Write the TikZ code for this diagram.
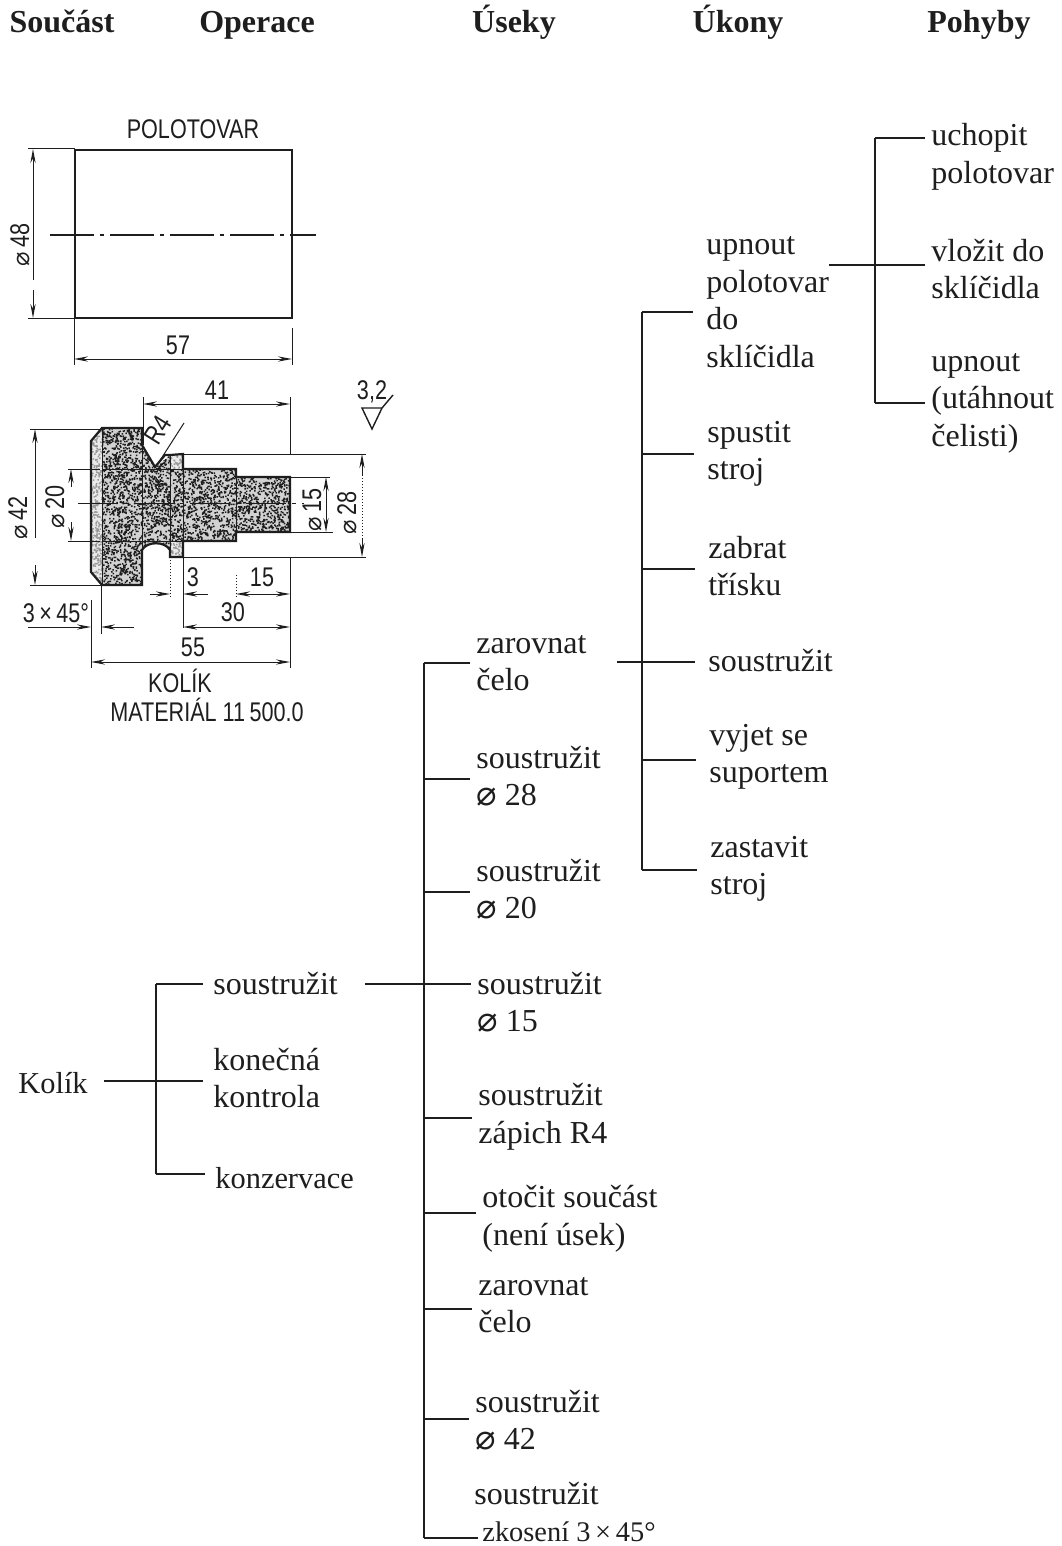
\documentclass[tikz,border=0pt]{standalone}
\usepackage{fontspec}
\setmainfont{Liberation Serif}
\newfontfamily\drawfont[FakeStretch=0.8]{Liberation Sans}
\newfontfamily\symfont{DejaVu Sans}
\usetikzlibrary{arrows.meta}
\definecolor{ink}{RGB}{30,30,30}
\newcommand{\prumer}{\smash{\symfont\fontsize{17}{17}\selectfont ⌀}}
\newcommand{\dimprumer}{{\symfont\fontsize{12}{12}\selectfont ⌀}}

\begin{document}
\begin{tikzpicture}[x=0.5pt,y=-0.5pt,
    head/.style={font=\fontsize{16}{19}\selectfont\bfseries,text=ink,inner sep=0pt,anchor=base},
    lbl/.style={font=\fontsize{16}{18.75}\selectfont,text=ink,anchor=west,align=left,inner sep=0pt},
    branch/.style={ink,line width=0.55pt,shorten >=3pt},
    spine/.style={ink,line width=0.6pt},
    feed/.style={ink,line width=0.9pt},
    dimtxt/.style={font=\drawfont\fontsize{13.5}{16}\selectfont,text=ink,inner sep=0pt},
    edge/.style={ink,line width=1.1pt},
    thin line/.style={ink,line width=0.5pt},
    dimline/.style={thin line,{Stealth[length=7pt,width=2.6pt]}-{Stealth[length=7pt,width=2.6pt]}},
    dimhalf/.style={thin line,-{Stealth[length=7pt,width=2.6pt]}}]
  \useasboundingbox (0,0) rectangle (1061,1546);
  \fill[white] (0,0) rectangle (1061,1546);
  % column headings
  \node[head] (soucast) at (62,33) {Součást};
  \node[head] (operace) at (257,33) {Operace};
  \node[head] (useky) at (514,33) {Úseky};
  \node[head] (ukony) at (738,33) {Úkony};
  \node[head] (pohyby) at (979,33) {Pohyby};

  % blank
  \node[dimtxt] (polotovar) at (193,129) {POLOTOVAR};
  \draw[edge] (75,150) rectangle (292,318);
  \draw[thin line,line width=0.7pt,dash pattern=on 22pt off 3pt on 2pt off 3pt] (50,235) -- (316,235);
  \draw[thin line] (28,149) -- (75,149);
  \draw[thin line] (28,318) -- (75,318);
  \draw[dimhalf] (33,280) -- (33,149);
  \draw[dimhalf] (33,290) -- (33,318);
  \node[dimtxt,rotate=90] (dquarantaotto) at (20,245) {\dimprumer\,48};
  \draw[thin line] (74,318) -- (74,365);
  \draw[thin line] (292,328) -- (292,365);
  \draw[dimline] (74,359) -- (292,359);
  \node[dimtxt] (lblank) at (178,345) {57};

  % pin, section with stipple
  \begin{scope}
    \clip (91,441) -- (102,428) -- (142,428) -- (142,445) -- (155,468) -- (170,455) -- (183,454)
      -- (183,469) -- (236,469) -- (236,477) -- (290,477) -- (290,532) -- (236,532) -- (236,541) -- (183,541)
      -- (183,557) -- (170,557) -- (170,550) .. controls (165,541) and (147,541) .. (142,550) -- (142,585)
      -- (102,585) -- (91,572) -- cycle;
    \pgfmathsetseed{7}
    \fill[gray!35] (91,428) rectangle (290,585);
    \fill[ink] \foreach \i in {1,...,6000}{
      (91+199*rnd,428+157*rnd) rectangle ++(1.5,1.5)};
    \fill[white,opacity=.55] (91,428) rectangle (102,585);
    \fill[white,opacity=.55] (170,454) rectangle (183,469);
    \fill[white,opacity=.55] (170,541) rectangle (183,557);
  \end{scope}
  \draw[edge] (91,441) -- (102,428) -- (142,428) -- (142,445) -- (155,467) -- (165,455) -- (170,455) -- (183,454)
    -- (183,469) -- (236,469) -- (236,477) -- (290,477) -- (290,532) -- (236,532) -- (236,541) -- (183,541)
    -- (183,557) -- (170,557) -- (170,550) .. controls (165,541) and (147,541) .. (142,550) -- (142,585)
    -- (102,585) -- (91,572) -- cycle;
  \draw[thin line] (102,428) -- (102,585);
  \draw[thin line] (142,428) -- (142,585);
  \draw[thin line] (170,455) -- (170,557);
  \draw[thin line] (183,469) -- (183,541);
  \draw[thin line] (236,469) -- (236,541);
  \draw[thin line] (102,469) -- (183,469);
  \draw[thin line] (102,541) -- (183,541);
  \draw[thin line,dash pattern=on 20pt off 3pt on 2pt off 3pt] (78,503) -- (304,503);

  % pin, diameters
  \draw[thin line] (30,429) -- (102,429);
  \draw[thin line] (30,585) -- (102,585);
  \draw[dimhalf] (35,538) -- (35,429);
  \draw[dimhalf] (35,565) -- (35,585);
  \node[dimtxt,rotate=90] (dquarantadue) at (18,518) {\dimprumer\,42};
  \draw[thin line] (68,469) -- (100,469);
  \draw[thin line] (68,541) -- (100,541);
  \draw[dimhalf] (71,487) -- (71,469);
  \draw[dimhalf] (71,522) -- (71,541);
  \node[dimtxt,rotate=90] (dventi) at (55,507) {\dimprumer\,20};
  \draw[thin line] (290,477) -- (330,477);
  \draw[thin line] (290,532) -- (333,532);
  \draw[dimline] (326,477) -- (326,532);
  \node[dimtxt,rotate=90] (dquindici) at (312,510) {\dimprumer\,15};
  \draw[thin line] (183,454) -- (366,454);
  \draw[thin line] (183,557) -- (366,557);
  \draw[dimhalf] (362,475) -- (362,454);
  \draw[dimhalf] (362,538) -- (362,557);
  \draw[thin line,densely dotted] (362,475) -- (362,538);
  \node[dimtxt,rotate=90] (dventotto) at (347,513) {\dimprumer\,28};

  % pin, lengths
  \draw[thin line] (143,397) -- (143,445);
  \draw[thin line] (290,397) -- (290,454);
  \draw[thin line] (290,557) -- (290,668);
  \draw[dimline] (143,404) -- (290,404);
  \node[dimtxt] (lquarantuno) at (217,390) {41};
  \draw[thin line] (159,462) -- (184,423);
  \node[dimtxt,rotate=58] (rquattro) at (158,430) {R4};
  \node[dimtxt] (drsnost) at (372,392) {3,2};
  \draw[thin line,line width=0.7pt] (393,395) -- (382,408) -- (362,408) -- (372,429) -- (382,408);
  \draw[thin line,densely dotted] (170,560) -- (170,597);
  \draw[thin line] (183,557) -- (183,628);
  \draw[dimhalf] (150,594) -- (170,594);
  \draw[dimhalf] (208,594) -- (183,594);
  \node[dimtxt] (ltre) at (193,577) {3};
  \draw[thin line,densely dotted] (236,575) -- (236,598);
  \draw[dimline] (236,594) -- (290,594);
  \node[dimtxt] (lquindici) at (262,577) {15};
  \draw[dimline] (183,627) -- (290,627);
  \node[dimtxt] (ltrenta) at (233,612) {30};
  \draw[thin line] (91,600) -- (91,668);
  \draw[thin line] (101,585) -- (101,634);
  \draw[dimhalf] (28,627) -- (91,627);
  \draw[dimhalf] (134,627) -- (101,627);
  \node[dimtxt] (lsrazeni) at (56,613) {3\,×\,45°};
  \draw[dimline] (91,662) -- (290,662);
  \node[dimtxt] (lcinquanta) at (193,647) {55};
  \node[dimtxt] (kolikname) at (180,681) {KOLÍK};
  \node[dimtxt] (material) at (207,710) {MATERIÁL 11\,500.0};

  % motions
  \node[lbl] (uchopit) at (931,157) {uchopit\\polotovar};
  \node[lbl] (vlozit) at (931,269) {vložit do\\sklíčidla};
  \node[lbl] (utahnout) at (931,403) {upnout\\(utáhnout\\čelisti)};
  % tasks
  \node[lbl] (upnout) at (706,302) {upnout\\polotovar\\do\\sklíčidla};
  \node[lbl] (spustit) at (707,454) {spustit\\stroj};
  \node[lbl] (zabrat) at (708,566) {zabrat\\třísku};
  \node[lbl] (soustruzit) at (708,661) {soustružit};
  \node[lbl] (vyjet) at (709,757) {vyjet se\\suportem};
  \node[lbl] (zastavit) at (710,869) {zastavit\\stroj};
  % sections
  \node[lbl] (celoa) at (476,663) {zarovnat\\čelo};
  \node[lbl] (sosmadvacet) at (476,776) {soustružit\\\prumer\ 28};
  \node[lbl] (sdvacet) at (476,889) {soustružit\\\prumer\ 20};
  \node[lbl] (spatnact) at (477,1002) {soustružit\\\prumer\ 15};
  \node[lbl] (szapich) at (478,1117) {soustružit\\zápich R4};
  \node[lbl] (otocit) at (482,1219) {otočit součást\\(není úsek)};
  \node[lbl] (celob) at (478,1305) {zarovnat\\čelo};
  \node[lbl] (sctyricet) at (475,1420) {soustružit\\\prumer\ 42};
  \node[lbl] (szkoseni) at (474,1512) {soustružit\\{\fontsize{14.2}{14.2}\selectfont\hspace*{4pt}zkosení 3\,×\,45°}};
  % operations
  \node[lbl] (opsoustruzit) at (213,984) {soustružit};
  \node[lbl] (kontrola) at (213,1078) {konečná\\kontrola};
  \node[lbl] (konzervace) at (215,1178) {\fontsize{15.2}{18}\selectfont konzervace};
  \node[lbl] (kolik) at (18,1083) {\fontsize{15.2}{18}\selectfont Kolík};

  % feeding ends
  \coordinate (izarovnat) at (617,662);
  \coordinate (isoustruzit) at (365,984);
  \coordinate (ikolik) at (104,1081);

  % trees
  \foreach \n/\y in {uchopit/138,vlozit/265,utahnout/403}{
    \coordinate (j\n) at (875,\y);
    \draw[branch] (j\n) -- (\n.west |- j\n);
  }
  \draw[spine] (juchopit) -- (jutahnout);
  \draw[feed] (upnout.east |- jvlozit) -- (jvlozit);

  \foreach \n/\y in {upnout/312,spustit/454,zabrat/569,soustruzit/662,vyjet/760,zastavit/870}{
    \coordinate (j\n) at (642,\y);
    \draw[branch,shorten >=6.5pt] (j\n) -- (\n.west |- j\n);
  }
  \draw[spine] (jupnout) -- (jzastavit);
  \draw[feed] (izarovnat) -- (jsoustruzit);

  \foreach \n/\y in {celoa/663,sosmadvacet/779,sdvacet/892,spatnact/984,szapich/1118,otocit/1213,celob/1309,sctyricet/1419}{
    \coordinate (j\n) at (424,\y);
    \draw[branch] (j\n) -- (\n.west |- j\n);
  }
  \coordinate (jszkoseni) at (424,1538);
  \draw[branch,shorten >=-2pt] (jszkoseni) -- (szkoseni.west |- jszkoseni);
  \draw[spine] (jceloa) -- (jszkoseni);
  \draw[feed] (isoustruzit) -- (jspatnact);

  \foreach \n/\y in {opsoustruzit/984,kontrola/1081,konzervace/1174}{
    \coordinate (j\n) at (156,\y);
    \draw[branch,shorten >=5pt] (j\n) -- (\n.west |- j\n);
  }
  \draw[spine] (jopsoustruzit) -- (jkonzervace);
  \draw[feed] (ikolik) -- (jkontrola);
\end{tikzpicture}
\end{document}
